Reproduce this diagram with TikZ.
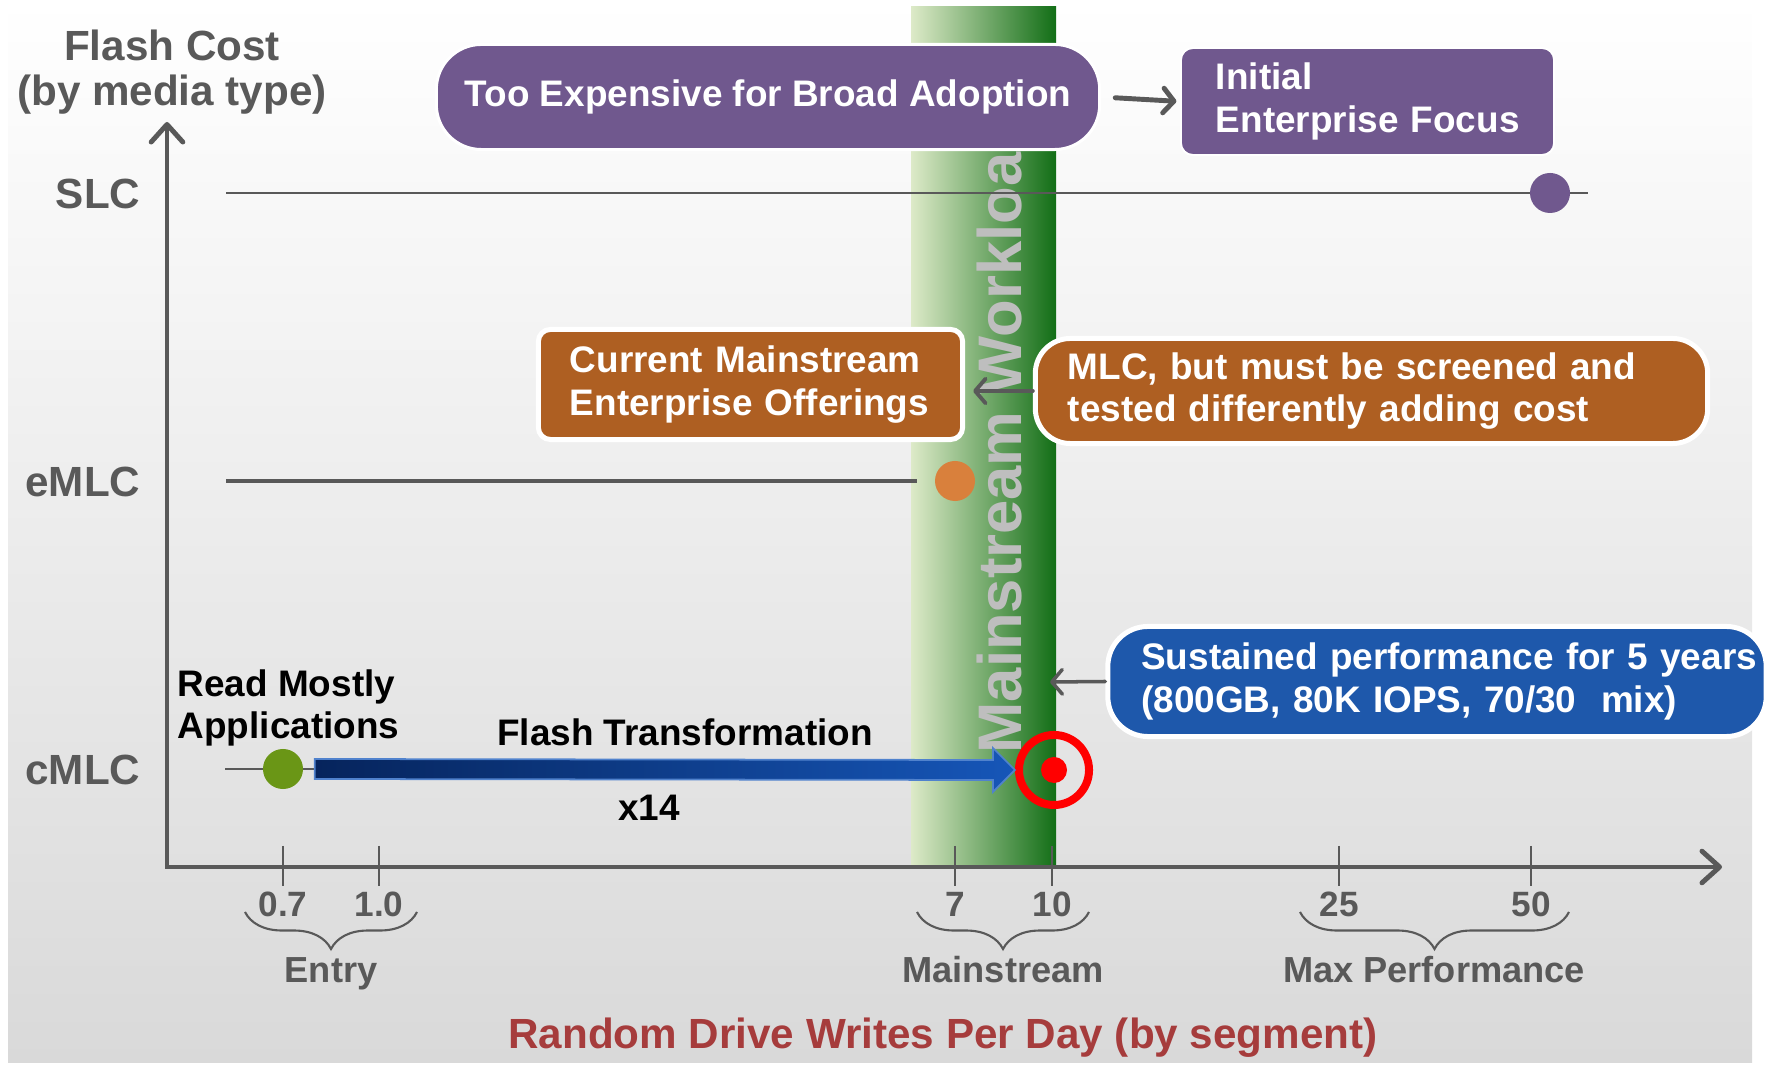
\documentclass[tikz,border=0pt]{standalone}
\usepackage{fontspec}
\setmainfont{Liberation Sans}
\usetikzlibrary{arrows.meta,calc,decorations.pathreplacing}

\definecolor{axisgray}{RGB}{89,89,89}
\definecolor{bggray}{RGB}{217,217,217}
\definecolor{purplebox}{RGB}{112,88,142}
\definecolor{brownbox}{RGB}{174,95,34}
\definecolor{bluebox}{RGB}{30,88,171}
\definecolor{titlered}{RGB}{166,60,60}
\definecolor{bandlight}{RGB}{221,234,200}
\definecolor{bandmid}{RGB}{140,178,100}
\definecolor{banddark}{RGB}{18,110,22}
\definecolor{bandtext}{RGB}{190,190,190}
\definecolor{dotorange}{RGB}{217,128,60}
\definecolor{dotgreen}{RGB}{106,150,22}
\definecolor{arrowdark}{RGB}{6,36,92}
\definecolor{arrowlight}{RGB}{22,86,184}
\definecolor{arrowedge}{RGB}{80,130,205}

\begin{document}
\begin{tikzpicture}[x=0.01cm,y=-0.01cm,
  txt/.style={font=\fontsize{10.5}{12}\selectfont\bfseries},
  axistxt/.style={font=\fontsize{12}{12.8}\selectfont\bfseries,text=axisgray,inner sep=0pt},
  ticktxt/.style={font=\fontsize{10}{12}\selectfont\bfseries,text=axisgray,anchor=base,inner sep=0pt},
  segtxt/.style={font=\fontsize{10.3}{12}\selectfont\bfseries,text=axisgray,anchor=base,inner sep=0pt},
  box/.style={txt,text=white,draw=white,inner sep=0pt,align=left},
  dot/.style={circle,inner sep=0pt,minimum size=0.4cm},
  pointer/.style={draw=axisgray,line width=1.4pt,line cap=round,-{Straight Barb[length=3pt,width=7pt,round]}},
  tick/.style={draw=axisgray,line width=0.6pt},
  seg/.style={draw=axisgray,line width=0.6pt,decorate,decoration={brace,mirror,amplitude=0.37cm}}]

\useasboundingbox (0,0) rectangle (1770,1065);
\shade[top color=white,bottom color=bggray] (8,0) rectangle (1752,1063);

% mainstream band
\shade[left color=bandlight,middle color=bandmid,right color=banddark] (911,7) rectangle (1056,867);
\node at (1021,754) [rotate=90,anchor=base west,inner sep=0pt,font=\fontsize{17.5}{20}\selectfont\bfseries,text=bandtext] (workload) {Mainstream Workload};

% media lines
\coordinate (slcstart) at (226,193);
\coordinate (slcend) at (1588,193);
\coordinate (emlcstart) at (226,481);
\coordinate (emlcend) at (917,481);
\coordinate (cmlcstart) at (225,769);
\coordinate (cmlcend) at (314,769);
\draw[axisgray,line width=0.6pt] (slcstart) -- (slcend);
\draw[axisgray,line width=0.9pt] (emlcstart) -- (emlcend);
\draw[axisgray,line width=0.6pt] (cmlcstart) -- (cmlcend);

% axes
\coordinate (origin) at (167,867);
\coordinate (ytop) at (167,122);
\coordinate (xend) at (1722,867);
\draw[axisgray,line width=1.4pt,{Straight Barb[length=5pt,width=9pt,round]}-{Straight Barb[length=5pt,width=9pt,round]}] (ytop) -- (origin) -- (xend);

\foreach \x/\t in {283/0.7,379/1.0,955/7,1052/10,1339/25,1531/50}{
  \draw[tick] (\x,846) -- (\x,886);
  \node at (\x,917) [ticktxt] (tick\x) {\t};
}

\draw[seg] (245,912) -- (417,912);
\draw[seg] (917,912) -- (1089,912);
\draw[seg] (1300,912) -- (1569,912);
\node at (331,983) [segtxt] (entry) {Entry};
\node at (1003,983) [segtxt] (mainstream) {Mainstream};
\node at (1434,983) [segtxt] (maxperf) {Max Performance};

\node at (943,1049) [anchor=base,inner sep=0pt,font=\fontsize{12}{14}\selectfont\bfseries,text=titlered] (xtitle) {Random Drive Writes Per Day (by segment)};
\node at (172,72) [axistxt,align=center] (ytitle) {Flash Cost\\(by media type)};

\node at (141,209) [axistxt,anchor=base east] (slc) {SLC};
\node at (141,497) [axistxt,anchor=base east] (emlc) {eMLC};
\node at (141,785) [axistxt,anchor=base east] (cmlc) {cMLC};

% dots
\node at (1550,193) [dot,fill=purplebox] (slcdot) {};
\node at (955,481) [dot,fill=dotorange] (emlcdot) {};
\node at (283,769) [dot,fill=dotgreen] (cmlcdot) {};

\node at (1054,770) [circle,draw=red,line width=0.08cm,inner sep=0pt,minimum size=0.7cm] (target) {};
\node at (target) [circle,fill=red,inner sep=0pt,minimum size=0.26cm] (bullseye) {};

\shade[left color=arrowdark,right color=arrowlight,draw=arrowedge,line width=0.5pt]
  ($(cmlcdot.east)+(11,-10)$) -- ($(target.west)+(-22,-10)$) -- ($(target.west)+(-22,-22)$)
  -- (target.west) -- ($(target.west)+(-22,22)$) -- ($(target.west)+(-22,10)$)
  -- ($(cmlcdot.east)+(11,10)$) -- cycle;

\node at (177,669) [txt,anchor=north west,align=left,inner sep=0pt] (readmostly) {Read Mostly\\Applications};
\node at (685,746) [txt,anchor=base,inner sep=0pt] (transform) {Flash Transformation};
\node at (649,821) [txt,anchor=base,inner sep=0pt] (times) {x14};

% call-outs
\node at (768,97) [box,fill=purplebox,line width=0.03cm,rounded corners=0.45cm,minimum width=6.63cm,minimum height=1.05cm,align=center] (toobox) {Too Expensive for Broad Adoption};
\node at (1367.5,101.5) [box,fill=purplebox,line width=0.02cm,rounded corners=0.12cm,minimum width=3.73cm,minimum height=1.07cm,text width=3.03cm] (initbox) {\mbox{Initial}\\\mbox{Enterprise Focus}};
\node at (750.5,384.5) [box,fill=brownbox,line width=0.05cm,rounded corners=0.12cm,minimum width=4.24cm,minimum height=1.1cm,text width=3.61cm] (curbox) {\mbox{Current Mainstream}\\\mbox{Enterprise Offerings}};
\node at (1371.5,391) [box,fill=brownbox,line width=0.05cm,rounded corners=0.35cm,minimum width=6.72cm,minimum height=1.05cm,text width=6.07cm] (mlcbox) {\mbox{MLC, but must be screened and}\\\mbox{tested differently adding cost}};
\node at (1437,681.5) [box,fill=bluebox,line width=0.05cm,rounded corners=0.4cm,minimum width=6.58cm,minimum height=1.1cm,text width=5.91cm] (sustbox) {\mbox{Sustained performance for 5 years}\\\mbox{(800GB, 80K IOPS, 70/30~ mix)}};

\coordinate (bandedge) at (1050,682);
\draw[pointer,shorten <=4pt,shorten >=1pt] (toobox.east) -- (initbox.west);
\draw[pointer,line width=1.1pt,shorten >=0.08cm] (mlcbox.west) -- (mlcbox.west -| curbox.east);
\draw[pointer,line width=1pt] (sustbox.west) -- (bandedge);

\end{tikzpicture}
\end{document}
